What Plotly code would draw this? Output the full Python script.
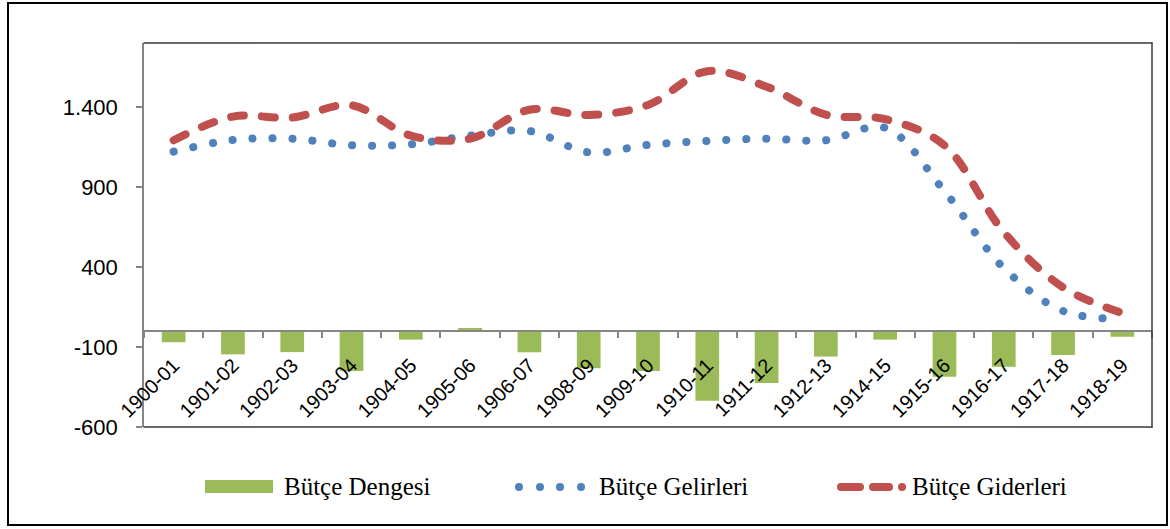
import plotly.graph_objects as go

# ---- data ----
categories = ["1900-01", "1901-02", "1902-03", "1903-04", "1904-05", "1905-06",
              "1906-07", "1908-09", "1909-10", "1910-11", "1911-12", "1912-13",
              "1914-15", "1915-16", "1916-17", "1917-18", "1918-19"]
butce_dengesi = [-70, -146, -132, -250, -54, 19, -133, -233, -250, -436, -325,
                 -160, -54, -286, -224, -150, -36]
butce_gelirleri = [1121, 1194, 1202, 1161, 1167, 1221, 1250, 1117, 1163, 1188,
                   1202, 1192, 1270, 874, 394, 125, 76]
butce_giderleri = [1192, 1340, 1334, 1411, 1221, 1202, 1383, 1350, 1413, 1624,
                   1527, 1352, 1324, 1160, 618, 273, 112]
y_tickvals = [-600, -100, 400, 900, 1400]
y_ticktext = ["-600", "-100", "400", "900", "1.400"]
series_names = ["Bütçe Dengesi", "Bütçe Gelirleri", "Bütçe Giderleri"]

GREEN = "#9BBB59"
BLUE = "#4F81BD"
RED = "#C0504D"
AXIS_GRAY = "#868686"

W, H = 1170, 529
L, R, T, B = 144, 1152, 43, 427   # plot area in pixels


def px_x(px):
    return (px - L) / (R - L)


def px_y(py):
    return (B - py) / (B - T)


fig = go.Figure()
fig.add_trace(go.Bar(x=categories, y=butce_dengesi, name=series_names[0],
                     width=0.4, marker=dict(color=GREEN, line=dict(width=0)),
                     showlegend=False))
fig.add_trace(go.Scatter(x=categories, y=butce_gelirleri, name=series_names[1],
                         mode="lines",
                         line=dict(color=BLUE, width=8, shape="spline",
                                   smoothing=1.0, dash="0.1px,19.9px"),
                         showlegend=False))
fig.add_trace(go.Scatter(x=categories, y=butce_giderleri, name=series_names[2],
                         mode="lines",
                         line=dict(color=RED, width=8, shape="spline",
                                   smoothing=1.0, dash="13px,18px"),
                         showlegend=False))

shapes = []
# outer chart border
shapes.append(dict(type="rect", xref="paper", yref="paper",
                   x0=px_x(8), x1=px_x(1167), y0=px_y(525), y1=px_y(3),
                   line=dict(color="black", width=2), layer="below"))
# plot area frame (top, right, bottom)
for (xa, ya, xb, yb) in [(L, T, R, T), (R, T, R, B), (L, B, R, B)]:
    shapes.append(dict(type="line", xref="paper", yref="paper",
                       x0=px_x(xa), y0=px_y(ya), x1=px_x(xb), y1=px_y(yb),
                       line=dict(color="#3a3a3a", width=1.5), layer="above"))

# legend swatches (drawn manually to match the reference look)
LEG_Y = 487
shapes.append(dict(type="rect", xref="paper", yref="paper",
                   x0=px_x(205), x1=px_x(273), y0=px_y(493), y1=px_y(480),
                   fillcolor=GREEN, line=dict(width=0), layer="above"))
for cx in [519, 540, 560, 581]:
    shapes.append(dict(type="circle", xref="paper", yref="paper",
                       x0=px_x(cx - 4), x1=px_x(cx + 4),
                       y0=px_y(LEG_Y + 4), y1=px_y(LEG_Y - 4),
                       fillcolor=BLUE, line=dict(width=0), layer="above"))
for (xa, xb) in [(841, 860), (873, 889)]:
    shapes.append(dict(type="line", xref="paper", yref="paper",
                       x0=px_x(xa), x1=px_x(xb), y0=px_y(LEG_Y), y1=px_y(LEG_Y),
                       line=dict(color=RED, width=8), layer="above"))
shapes.append(dict(type="circle", xref="paper", yref="paper",
                   x0=px_x(898), x1=px_x(906),
                   y0=px_y(LEG_Y + 4), y1=px_y(LEG_Y - 4),
                   fillcolor=RED, line=dict(width=0), layer="above"))

annotations = []
for txt, x0 in zip(series_names, [282, 597, 910]):
    annotations.append(dict(text=txt, xref="paper", yref="paper",
                            x=px_x(x0), y=px_y(486), xanchor="left",
                            yanchor="middle", showarrow=False,
                            font=dict(family="Liberation Serif, Times New Roman, serif",
                                      size=25, color="black")))

fig.update_layout(
    width=W, height=H, autosize=False,
    margin=dict(l=L, r=W - R, t=T, b=H - B, pad=0),
    paper_bgcolor="white", plot_bgcolor="white",
    bargap=0.6,
    shapes=shapes, annotations=annotations,
    showlegend=False,
    font=dict(family="Liberation Sans, Arial, sans-serif", color="black"),
    xaxis=dict(type="category", range=[-0.5, len(categories) - 0.5],
               anchor="free", position=0.25,
               showline=True, linecolor=AXIS_GRAY, linewidth=1.5,
               ticks="outside", ticklen=6, tickcolor=AXIS_GRAY, tickwidth=1.5,
               tickson="boundaries", tickangle=-45,
               tickfont=dict(size=20, color="black"),
               ticklabelstandoff=14,
               showgrid=False, zeroline=False),
    yaxis=dict(range=[-600, 1800], tickvals=y_tickvals, ticktext=y_ticktext,
               showline=True, linecolor=AXIS_GRAY, linewidth=1.5,
               ticks="outside", ticklen=6, tickcolor=AXIS_GRAY, tickwidth=1.5,
               tickfont=dict(size=22, color="black"),
               ticklabelstandoff=14,
               showgrid=False, zeroline=False),
)

css = ("body{margin:0;}"
       ".scatterlayer .js-line{stroke-linecap:round;}"
       ".shapelayer path{stroke-linecap:round;}")
js = ("var s=document.createElement('style');s.textContent='" + css +
      "';document.head.appendChild(s);")

fig.write_html("out.html", post_script=js, config={"displayModeBar": False})
